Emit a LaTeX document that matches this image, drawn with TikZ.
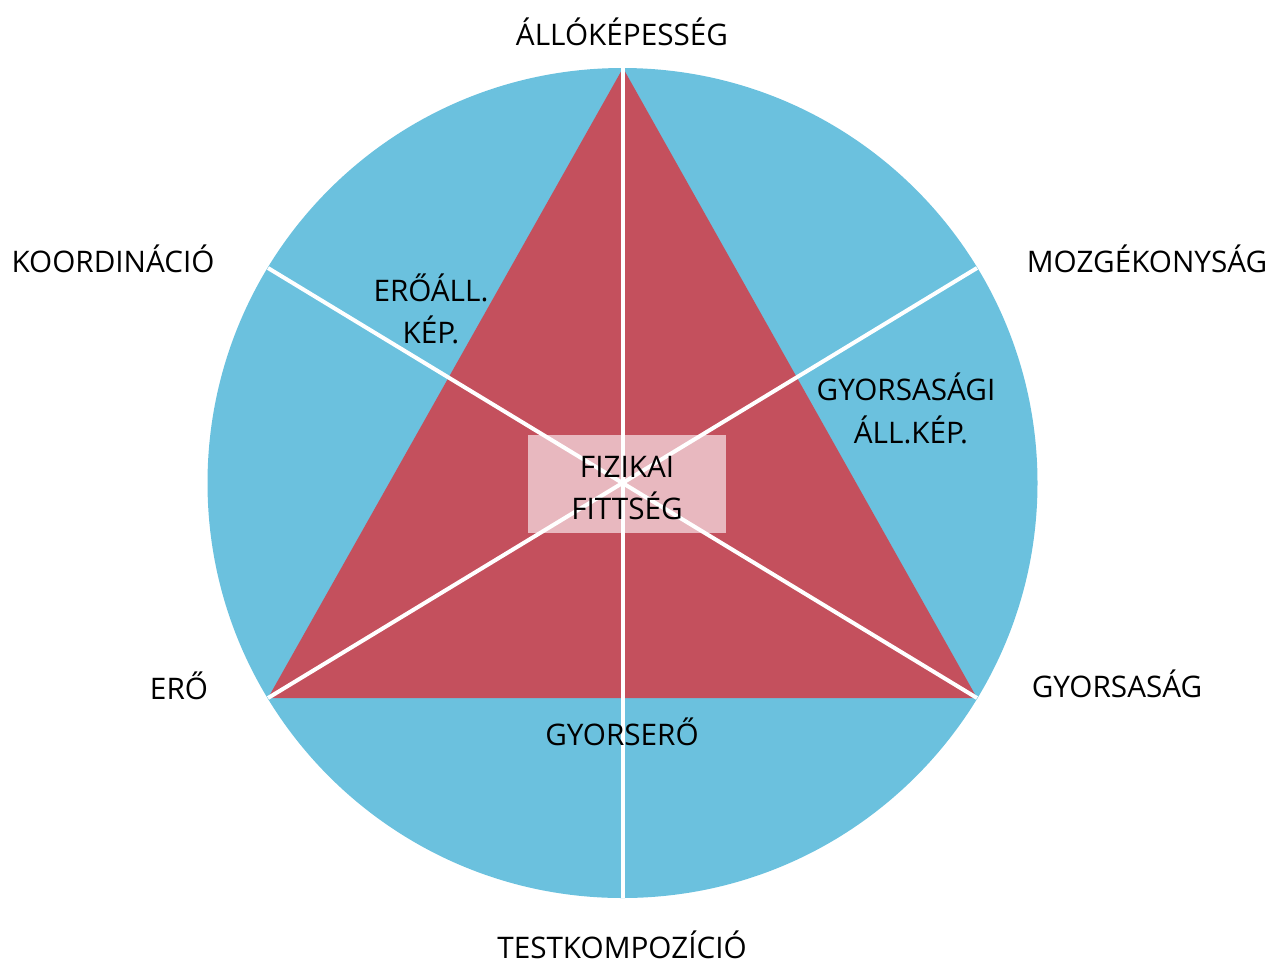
\documentclass[tikz,border=0pt]{standalone}
\usepackage{fontspec}
\setmainfont{Open Sans}
\definecolor{segblue}{HTML}{6BC1DE}
\definecolor{trired}{HTML}{C4505D}
\definecolor{centerpink}{HTML}{E8B8BF}
\begin{document}
\begin{tikzpicture}[x=1pt,y=-1pt,
  lbl/.style={inner sep=0pt, anchor=base, font=\fontsize{29.7}{36}\selectfont, text=black},
  divider/.style={draw=white, line width=4pt}]
\useasboundingbox (0,0) rectangle (1271,962);
% circle
\coordinate (C) at (622.5,483);
\fill[segblue] (C) circle[radius=415];
% triangle
\coordinate (T) at (623,68);
\coordinate (BL) at (268,698);
\coordinate (BR) at (977,698);
\fill[trired] (T) -- (BL) -- (BR) -- cycle;
% center box
\node[fill=centerpink, minimum width=198pt, minimum height=98pt, inner sep=0pt] (box) at (627,484) {};
% dividers
\coordinate (Bot) at (623,898);
\coordinate (UL) at (268,268);
\coordinate (UR) at (977,268);
\draw[divider] (T) -- (Bot);
\draw[divider] (UL) -- (BR);
\draw[divider] (UR) -- (BL);
% outer labels
\node[lbl] (allo) at (622,45) {ÁLLÓKÉPESSÉG};
\node[lbl] (koord) at (113,272) {KOORDINÁCIÓ};
\node[lbl] (mozg) at (1147,272) {MOZGÉKONYSÁG};
\node[lbl] (ero) at (179,699) {ERŐ};
\node[lbl] (gyors) at (1117,697) {GYORSASÁG};
\node[lbl, text depth=0pt] (test) at (622,958) {TESTKOMPOZÍCIÓ};
% inner labels
\node[lbl] (eroa) at (431,301) {ERŐÁLL.};
\node[lbl] (erob) at (431,343) {KÉP.};
\node[lbl] (gyaa) at (906,400) {GYORSASÁGI};
\node[lbl] (gyab) at (911,443) {ÁLL.KÉP.};
\node[lbl] (fita) at (627,477) {FIZIKAI};
\node[lbl] (fitb) at (627,519) {FITTSÉG};
\node[lbl] (gyero) at (622,745) {GYORSERŐ};
\end{tikzpicture}
\end{document}
